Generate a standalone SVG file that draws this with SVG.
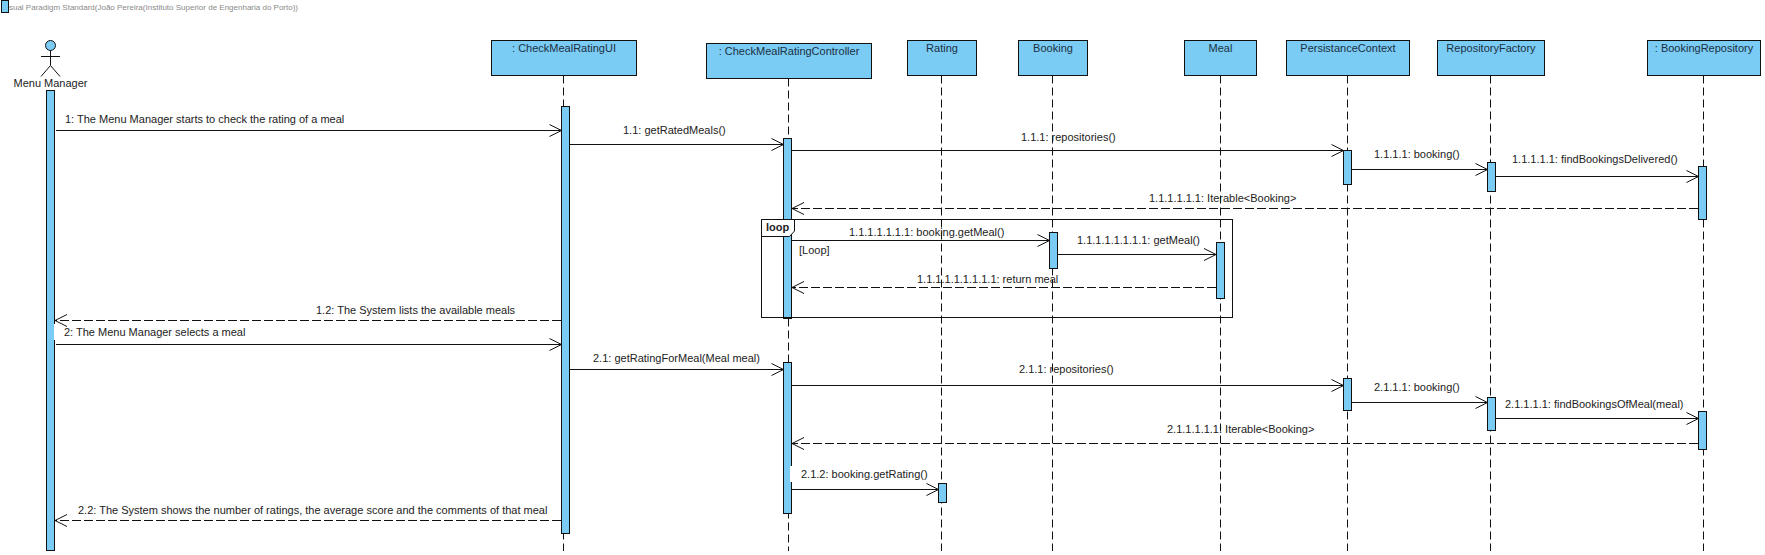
<svg xmlns="http://www.w3.org/2000/svg" width="1765" height="555" viewBox="0 0 1765 555">
<style>
text{font-family:"Liberation Sans",Arial,sans-serif;font-size:11px;fill:#222}
.box,.act{fill:#7accf5;stroke:#111;stroke-width:1}
.name{text-anchor:middle;fill:#1c2f3f}
.life{stroke:#111;stroke-width:1;stroke-dasharray:8 4;fill:none}
.msg{stroke:#111;stroke-width:1;fill:none;marker-end:url(#open)}
.ret{stroke-dasharray:9 3}
.wm{font-size:8px;fill:#8a8a8a}
.actor{fill:none;stroke:#111;stroke-width:1}
</style>
<defs>
<marker id="open" markerUnits="userSpaceOnUse" markerWidth="16" markerHeight="16" refX="13" refY="7" orient="auto" overflow="visible">
<path d="M1 1 L13 7 L1 13" fill="none" stroke="#111" stroke-width="1"/>
</marker>
</defs>
<rect width="1765" height="555" fill="#fff"/>
<g id="watermark">
<text class="wm" x="2" y="10">Visual Paradigm Standard(João Pereira(Instituto Superior de Engenharia do Porto))</text>
<rect class="act" x="1.5" y="0.5" width="7" height="12"/>
</g>
<g id="menu-manager">
<circle cx="50.5" cy="45.5" r="5" class="box"/>
<path class="actor" d="M50.5 50.5V65.5M41 56.5H60M41 76.5L50.5 65.5L60 76.5"/>
<text class="name" x="50.5" y="87" style="fill:#222">Menu Manager</text>
<rect class="act" x="46.5" y="90.5" width="8" height="460"/>
</g>
<g id="check-meal-rating-ui">
<rect class="box" x="491.5" y="40.5" width="145" height="35"/>
<text class="name" x="564" y="52">: CheckMealRatingUI</text>
<path class="life" d="M563.5 75.5V551"/>
<rect class="act" x="561.5" y="106.5" width="8" height="427"/>
</g>
<g id="check-meal-rating-controller">
<rect class="box" x="706.5" y="43.5" width="165" height="35"/>
<text class="name" x="789" y="55">: CheckMealRatingController</text>
<path class="life" d="M788.5 78.5V551"/>
<rect class="act" x="783.5" y="138.5" width="8" height="180"/>
<rect class="act" x="783.5" y="362.5" width="8" height="151"/>
</g>
<g id="rating">
<rect class="box" x="907.5" y="40.5" width="69" height="35"/>
<text class="name" x="942" y="52">Rating</text>
<path class="life" d="M941.5 75.5V551"/>
<rect class="act" x="938.5" y="483.5" width="8" height="19"/>
</g>
<g id="booking">
<rect class="box" x="1018.5" y="40.5" width="69" height="35"/>
<text class="name" x="1053" y="52">Booking</text>
<path class="life" d="M1052.5 75.5V551"/>
<rect class="act" x="1049.5" y="232.5" width="8" height="36"/>
</g>
<g id="meal">
<rect class="box" x="1184.5" y="40.5" width="72" height="35"/>
<text class="name" x="1220.5" y="52">Meal</text>
<path class="life" d="M1220.5 75.5V551"/>
<rect class="act" x="1216.5" y="242.5" width="8" height="56"/>
</g>
<g id="persistance-context">
<rect class="box" x="1286.5" y="40.5" width="123" height="35"/>
<text class="name" x="1348" y="52">PersistanceContext</text>
<path class="life" d="M1347.5 75.5V551"/>
<rect class="act" x="1343.5" y="150.5" width="8" height="34"/>
<rect class="act" x="1343.5" y="378.5" width="8" height="32"/>
</g>
<g id="repository-factory">
<rect class="box" x="1437.5" y="40.5" width="107" height="35"/>
<text class="name" x="1491" y="52">RepositoryFactory</text>
<path class="life" d="M1490.5 75.5V551"/>
<rect class="act" x="1487.5" y="162.5" width="8" height="29"/>
<rect class="act" x="1487.5" y="397.5" width="8" height="33"/>
</g>
<g id="booking-repository">
<rect class="box" x="1647.5" y="40.5" width="113" height="35"/>
<text class="name" x="1704" y="52">: BookingRepository</text>
<path class="life" d="M1703.5 75.5V551"/>
<rect class="act" x="1698.5" y="166.5" width="8" height="53"/>
<rect class="act" x="1698.5" y="411.5" width="8" height="38"/>
</g>
<g id="loop-frame">
<rect x="761.5" y="219.5" width="471" height="98" fill="none" stroke="#111"/>
<path d="M761.5 219.5H794.5V231L789.5 236.5H761.5Z" fill="#fff" stroke="#111"/>
<text x="766" y="231" style="font-weight:bold">loop</text>
<text x="799" y="254">[Loop]</text>
</g>
<g id="connectors">
<rect x="54" y="324" width="2" height="16" fill="#fff"/>
<rect x="790" y="466" width="3" height="16" fill="#fff"/>
<line class="msg" x1="56" y1="130.5" x2="561.5" y2="130.5"/>
<line class="msg" x1="570" y1="144.5" x2="783.5" y2="144.5"/>
<line class="msg" x1="792" y1="150.5" x2="1343.5" y2="150.5"/>
<line class="msg" x1="1352" y1="169.5" x2="1487.5" y2="169.5"/>
<line class="msg" x1="1496" y1="176.5" x2="1698.5" y2="176.5"/>
<line class="msg ret" x1="1698" y1="208.5" x2="792" y2="208.5"/>
<line class="msg" x1="792" y1="240.5" x2="1049.5" y2="240.5"/>
<line class="msg" x1="1058" y1="254.5" x2="1216" y2="254.5"/>
<line class="msg ret" x1="1216" y1="287.5" x2="792" y2="287.5"/>
<line class="msg ret" x1="561" y1="320.5" x2="55" y2="320.5"/>
<line class="msg" x1="56" y1="344.5" x2="561.5" y2="344.5"/>
<line class="msg" x1="570" y1="369.5" x2="783.5" y2="369.5"/>
<line class="msg" x1="792" y1="385.5" x2="1343.5" y2="385.5"/>
<line class="msg" x1="1352" y1="402.5" x2="1487.5" y2="402.5"/>
<line class="msg" x1="1496" y1="418.5" x2="1698.5" y2="418.5"/>
<line class="msg ret" x1="1698" y1="443.5" x2="792" y2="443.5"/>
<line class="msg" x1="792" y1="489.5" x2="938.5" y2="489.5"/>
<line class="msg ret" x1="561" y1="520.5" x2="55" y2="520.5"/>
<text x="65" y="123">1: The Menu Manager starts to check the rating of a meal</text>
<text x="623" y="134">1.1: getRatedMeals()</text>
<text x="1021" y="141">1.1.1: repositories()</text>
<text x="1374" y="158">1.1.1.1: booking()</text>
<text x="1512" y="163">1.1.1.1.1: findBookingsDelivered()</text>
<text x="1149" y="202">1.1.1.1.1.1: Iterable&lt;Booking&gt;</text>
<text x="849" y="236">1.1.1.1.1.1.1: booking.getMeal()</text>
<text x="1077" y="244">1.1.1.1.1.1.1.1: getMeal()</text>
<text x="917" y="283">1.1.1.1.1.1.1.1.1: return meal</text>
<text x="316" y="314">1.2: The System lists the available meals</text>
<text x="64" y="336">2: The Menu Manager selects a meal</text>
<text x="593" y="362">2.1: getRatingForMeal(Meal meal)</text>
<text x="1019" y="373">2.1.1: repositories()</text>
<text x="1374" y="391">2.1.1.1: booking()</text>
<text x="1505" y="408">2.1.1.1.1: findBookingsOfMeal(meal)</text>
<text x="1167" y="433">2.1.1.1.1.1: Iterable&lt;Booking&gt;</text>
<text x="801" y="478">2.1.2: booking.getRating()</text>
<text x="78" y="514">2.2: The System shows the number of ratings, the average score and the comments of that meal</text>
</g>
</svg>
